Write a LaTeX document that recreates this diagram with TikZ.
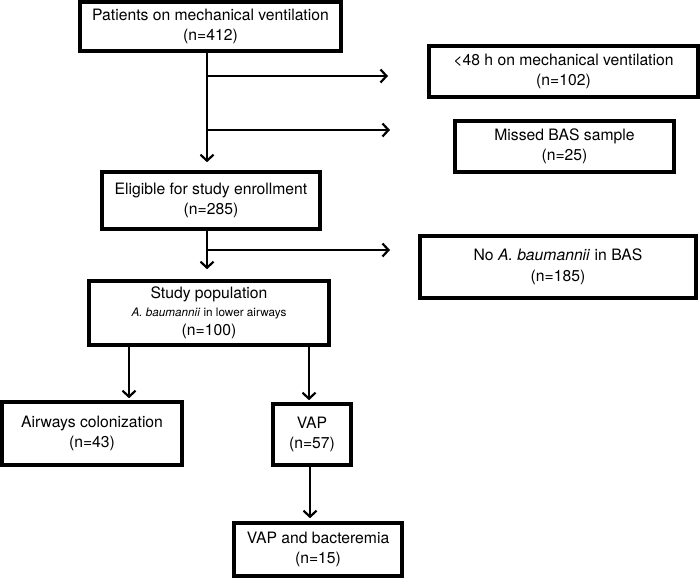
\documentclass[tikz,border=0pt]{standalone}
\usepackage{fontspec}
\setmainfont{TeX Gyre Heros}
\usetikzlibrary{arrows.meta}
\tikzset{
    flow-box/.style = {draw=black, line width=3.6pt, rectangle, align=center, inner sep=0pt, font=\fontsize{15.7}{20.5}\selectfont},
    flow-arrow/.style = {line width=2pt, -{Straight Barb[length=6pt, width=13pt, line width=2.2pt]}},
}

\begin{document}
\begin{tikzpicture}[x=1pt, y=-1pt]
\useasboundingbox (0,0) rectangle (700,579);
\node [flow-box, minimum width=261pt, minimum height=49pt] (patients) at (210.5,26.5) {Patients on mechanical ventilation\\(n=412)};
\node [flow-box, minimum width=269pt, minimum height=51pt] (short) at (563.5,71.5) {<48 h on mechanical ventilation\\(n=102)};
\node [flow-box, minimum width=219pt, minimum height=51pt] (missed) at (564.5,146.5) {Missed BAS sample\\(n=25)};
\node [flow-box, minimum width=218pt, minimum height=57pt] (eligible) at (211,200.5) {Eligible for study enrollment\\(n=285)};
\node [flow-box, minimum width=276pt, minimum height=62pt] (noab) at (558,267) {No \textit{A. baumannii} in BAS\\(n=185)};
\node [flow-box, minimum width=240pt, minimum height=64pt] (study) at (209,313) {Study population\\[-3pt]{\fontsize{11.7}{14}\selectfont\textit{A. baumannii} in lower airways}\\[-1pt](n=100)};
\node [flow-box, minimum width=180pt, minimum height=63pt] (airways) at (92,433.5) {Airways colonization\\(n=43)};
\node [flow-box, minimum width=78pt, minimum height=61pt] (vap) at (312,434.5) {VAP\\(n=57)};
\node [flow-box, minimum width=168pt, minimum height=53pt] (bacteremia) at (318,549.5) {VAP and bacteremia\\(n=15)};

\coordinate (trunk) at (207,0);
\coordinate (cut1) at (388,76);
\coordinate (cut2) at (390,130);
\coordinate (cut3) at (390,250);

\draw [flow-arrow, shorten >=8pt] (trunk |- patients.south) -- (trunk |- eligible.north);
\draw [flow-arrow] (trunk |- cut1) -- (cut1);
\draw [flow-arrow] (trunk |- cut2) -- (cut2);
\draw [flow-arrow, shorten >=10pt] (trunk |- eligible.south) -- (trunk |- study.north);
\draw [flow-arrow] (trunk |- cut3) -- (cut3);
\draw [flow-arrow, shorten >=2pt] ([xshift=-80pt]study.south) -- ([xshift=-80pt]study.south |- airways.north);
\draw [flow-arrow, shorten >=2pt] ([xshift=100pt]study.south) -- ([xshift=100pt]study.south |- vap.north);
\draw [flow-arrow, shorten >=3pt] ([xshift=-2pt]vap.south) -- ([xshift=-2pt]vap.south |- bacteremia.north);
\end{tikzpicture}
\end{document}
